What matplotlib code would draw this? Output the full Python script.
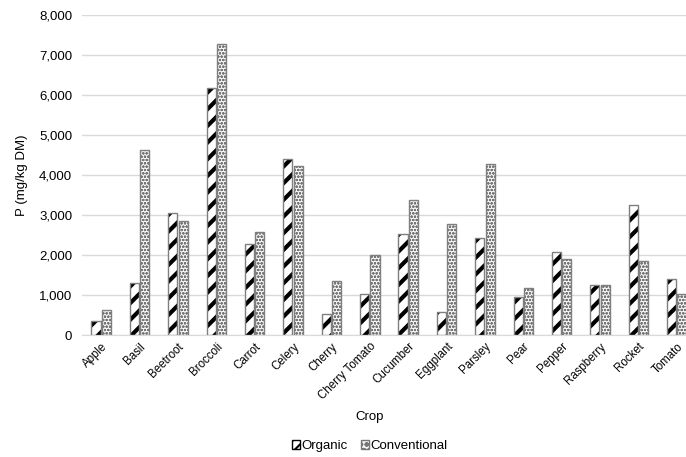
import matplotlib
matplotlib.use("Agg")
import matplotlib.pyplot as plt
import numpy as np
from matplotlib.ticker import FuncFormatter
from matplotlib.patches import Patch

crops = ["Apple", "Basil", "Beetroot", "Broccoli", "Carrot", "Celery", "Cherry",
         "Cherry Tomato", "Cucumber", "Eggplant", "Parsley", "Pear", "Pepper",
         "Raspberry", "Rocket", "Tomato"]
organic = [350, 1300, 3050, 6170, 2270, 4410, 525, 1020, 2520, 570, 2420, 940,
           2070, 1240, 3240, 1400]
conventional = [630, 4620, 2850, 7280, 2570, 4220, 1340, 1990, 3380, 2780, 4280,
                1170, 1900, 1240, 1840, 1030]

plt.rcParams['font.family'] = ['Liberation Sans', 'DejaVu Sans']

fig = plt.figure(figsize=(6.86, 4.57), dpi=100)
ax = fig.add_axes([82/686, 1-335/457, 614/686, 320/457])

x = np.arange(len(crops))
w = 0.235
off = 0.135

plt.rcParams['hatch.linewidth'] = 3.0
ax.bar(x - off, organic, w, color='white', edgecolor='black', hatch='//', linewidth=0, zorder=2)
ax.bar(x - off, organic, w, color='none', edgecolor='#7f7f7f', linewidth=1.0, zorder=3)
plt.rcParams['hatch.linewidth'] = 0.7
ax.bar(x + off, conventional, w, color='#f8f8f8', edgecolor='#777777', hatch='ooooo', linewidth=0, zorder=2)
ax.bar(x + off, conventional, w, color='none', edgecolor='#7f7f7f', linewidth=1.0, zorder=3)

ax.set_xlim(-0.5, len(crops) - 0.5)
ax.set_ylim(0, 8000)
ax.set_yticks(np.arange(0, 8001, 1000))
ax.yaxis.set_major_formatter(FuncFormatter(lambda v, p: f"{int(v):,}"))
ax.grid(axis='y', color='#d9d9d9', linewidth=1.0, zorder=0)
ax.set_axisbelow(True)
for s in ['top', 'right', 'left']:
    ax.spines[s].set_visible(False)
ax.spines['bottom'].set_color('#d9d9d9')
ax.tick_params(axis='both', length=0, colors='#000000')
ax.tick_params(axis='y', labelsize=9.5, pad=7)
ax.set_xticks(x)
ax.set_xticklabels(crops, rotation=45, ha='right', rotation_mode='anchor', fontsize=8.3)
ax.tick_params(axis='x', pad=4)
ax.set_ylabel("P (mg/kg DM)", fontsize=9.5, labelpad=8)
fig.text(370/686, 1-417/457, "Crop", ha='center', va='center', fontsize=9.5)

plt.rcParams['hatch.linewidth'] = 1.5
handles = [Patch(facecolor='white', edgecolor='black', hatch='///', label='Organic'),
           Patch(facecolor='#f8f8f8', edgecolor='#777777', hatch='ooo', label='Conventional')]
fig.legend(handles=handles, loc='center', bbox_to_anchor=(370/686, 1-446/457), ncol=2,
           frameon=False, fontsize=9.5, handlelength=0.6, handleheight=0.6,
           handletextpad=0.1, columnspacing=1.0)

fig.savefig("out.png", dpi=100)
